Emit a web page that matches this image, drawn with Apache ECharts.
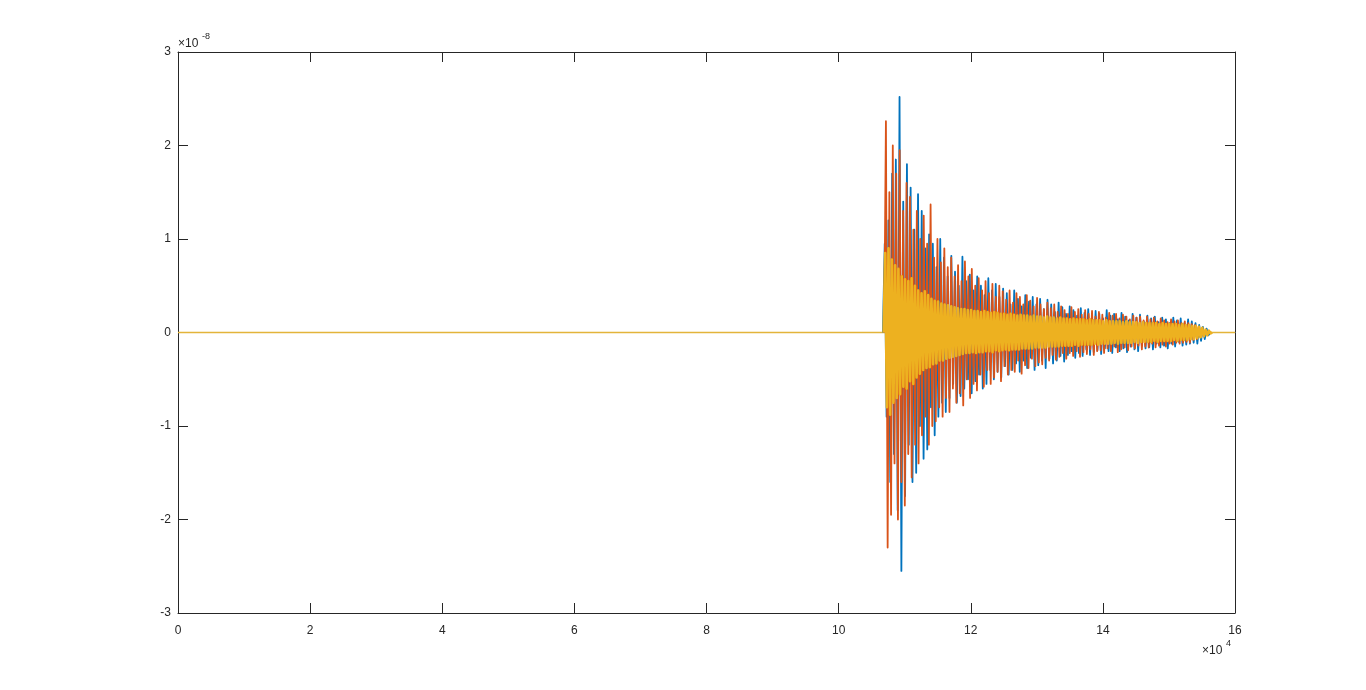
<!DOCTYPE html>
<html>
<head>
<meta charset="utf-8">
<script src="https://cdn.jsdelivr.net/npm/echarts@6/dist/echarts.min.js"></script>
<style>
html,body{margin:0;padding:0;background:#fff;}
#chart{width:1366px;height:690px;}
</style>
</head>
<body>
<div id="chart"></div>
<script>
// x: sample index (axis labelled in units of 10^4); y: amplitude in units of 10^-8
const xTickLabels = ['0','2','4','6','8','10','12','14','16'];
const yTickLabels = ['-3','-2','-1','0','1','2','3'];

// Quiet part before and after the event (all three traces sit at ~0 there)
const quietX = [0, 160000];
const quietY = [0, 0];

// Series 1 (blue): one value every 280 samples from sample 106700
const blueStart = 106700, blueStep = 280;
const blueValues = [
 0,
 .95,-.9, 1.2,-1.6, 1.7,-1.3, 1.85,-1.9, 2.52,-2.55,
 1.4,-1.75, 1.8,-1.2, 1.55,-1.6, 1.1,-1.5, 1.48,-1.0,
 1.3,-1.35, .9,-1.25, 1.05,-.8, .95,-1.1, .7,-.9,
 1.0,-.75, .8,-.85, .6,-.7, .82,-.55, .65,-.75,
 .5,-.68, .81,-.6, .55,-.5, .62,-.65, .45,-.52,
 .6,-.45, .5,-.6, .4,-.55, .58,-.4, .45,-.5,
 .52,-.42, .38,-.48, .47,-.36, .42,-.45, .3,-.4,
 .45,-.33, .36,-.42, .28,-.3, .4,-.38, .33,-.27,
 .38,-.4, .3,-.35, .36,-.3, .25,-.38, .35,-.28,
 .3,-.33, .22,-.3, .32,-.25, .27,-.31, .2,-.24,
 .28,-.2, .24,-.27, .18,-.22, .26,-.25, .21,-.18,
 .25,-.24, .17,-.21, .23,-.19, .2,-.23, .15,-.17,
 .24,-.2, .18,-.22, .2,-.16, .14,-.2, .21,-.17,
 .17,-.21, .13,-.15, .2,-.18, .16,-.2, .19,-.14,
 .12,-.17, .18,-.16, .15,-.18, .17,-.12, .11,-.16,
 .16,-.14, .14,-.17, .1,-.12, .16,-.15, .13,-.1,
 .15,-.14, .1,-.13, .14,-.12, .12,-.11, .1,-.12,
 .08,-.09, .06,-.07, .04,-.03,
 0
];

// Series 2 (orange): one value every 260 samples from sample 106900
const orangeStart = 106900, orangeStep = 260;
const orangeValues = [
 0,
 2.26,-2.3, 1.5,-1.95, 2.0,-1.4, 1.7,-2.0, 1.95,-1.6,
 1.3,-1.85, 1.6,-1.3, 1.45,-1.55, 1.1,-1.2, 1.3,-1.4,
 1.0,-1.1, 1.25,-.9, .95,-1.2, 1.37,-1.0, .8,-.95,
 1.0,-.8, .75,-.9, .9,-.7, .7,-.85, .8,-.6,
 .6,-.75, .72,-.65, .55,-.78, .76,-.5, .6,-.7,
 .68,-.55, .5,-.62, .58,-.45, .45,-.58, .55,-.4,
 .42,-.55, .52,-.48, .38,-.42, .5,-.52, .44,-.36,
 .35,-.45, .45,-.4, .32,-.42, .42,-.3, .38,-.44,
 .3,-.35, .4,-.38, .34,-.28, .28,-.36, .37,-.32,
 .3,-.34, .25,-.27, .32,-.3, .26,-.24, .3,-.29,
 .22,-.26, .28,-.22, .24,-.28, .2,-.22, .27,-.25,
 .22,-.2, .25,-.26, .19,-.21, .24,-.23, .2,-.18,
 .23,-.24, .17,-.2, .22,-.19, .19,-.22, .16,-.17,
 .21,-.2, .18,-.15, .2,-.21, .15,-.18, .19,-.16,
 .17,-.19, .14,-.15, .18,-.17, .16,-.14, .17,-.18,
 .13,-.15, .17,-.16, .14,-.12, .16,-.16, .12,-.14,
 .15,-.13, .13,-.15, .11,-.12, .14,-.13, .12,-.11,
 .13,-.12, .1,-.11, .12,-.1, .1,-.11, .09,-.08,
 .08,-.07, .06,-.05, .04,-.04, .02,-.01,
 0
];

// Series 3 (yellow): one value every 250 samples from sample 106800
const yellowStart = 106800, yellowStep = 250;
const yellowValues = [
 0,
 .85,-.8, .9,-.88, .78,-.75, .72,-.7, .68,-.66,
 .6,-.58, .57,-.6, .55,-.52, .58,-.55, .5,-.48,
 .45,-.44, .42,-.4, .44,-.38, .4,-.37, .36,-.34,
 .34,-.33, .33,-.3, .31,-.3, .3,-.28, .29,-.27,
 .28,-.26, .27,-.25, .26,-.24, .25,-.23, .25,-.22,
 .24,-.22, .24,-.21, .23,-.22, .23,-.21, .22,-.21,
 .23,-.2, .22,-.2, .21,-.21, .22,-.19, .21,-.2,
 .2,-.19, .2,-.18, .19,-.19, .2,-.18, .19,-.18,
 .18,-.18, .19,-.17, .18,-.17, .18,-.17, .17,-.17,
 .18,-.16, .17,-.16, .17,-.16, .16,-.16, .17,-.15,
 .16,-.15, .16,-.15, .15,-.15, .16,-.14, .15,-.14,
 .15,-.14, .14,-.14, .15,-.13, .14,-.14, .14,-.13,
 .14,-.13, .13,-.13, .14,-.13, .13,-.12, .13,-.13,
 .13,-.12, .12,-.12, .13,-.12, .12,-.12, .12,-.11,
 .12,-.12, .12,-.11, .11,-.11, .12,-.11, .11,-.11,
 .11,-.1, .11,-.11, .1,-.1, .11,-.1, .1,-.1,
 .1,-.1, .1,-.09, .1,-.1, .09,-.09, .1,-.09,
 .09,-.09, .09,-.09, .09,-.08, .09,-.09, .08,-.08,
 .09,-.08, .08,-.08, .08,-.07, .07,-.07, .07,-.06,
 .06,-.05, .05,-.04, .03,-.03, .02,-.01,
 0
];

const xMin = 0, xMax = 160000, xInterval = 20000;
const yMin = -3, yMax = 3, yInterval = 1;

function buildSeries(start, step, values) {
  return values.map((v, i) => [start + i * step, v]);
}

const axisColor = '#262626';
const font = 'Liberation Sans, Arial, Helvetica, sans-serif';

const chart = echarts.init(document.getElementById('chart'), null, {renderer: 'canvas'});

const xAxisBase = {
  type: 'value', min: xMin, max: xMax, interval: xInterval,
  axisLine: {show: true, onZero: false, lineStyle: {color: axisColor, width: 1}},
  axisTick: {show: true, inside: true, length: 10, lineStyle: {color: axisColor}},
  splitLine: {show: false}
};
const yAxisBase = {
  type: 'value', min: yMin, max: yMax, interval: yInterval,
  axisLine: {show: true, onZero: false, lineStyle: {color: axisColor, width: 1}},
  axisTick: {show: true, inside: true, length: 10, lineStyle: {color: axisColor}},
  splitLine: {show: false}
};

chart.setOption({
  animation: false,
  backgroundColor: '#ffffff',
  grid: {left: 178, right: 131, top: 52, bottom: 77, containLabel: false},
  xAxis: [
    Object.assign({}, xAxisBase, {
      position: 'bottom',
      axisLabel: {
        show: true, color: axisColor, fontSize: 12, fontFamily: font, margin: 12,
        formatter: v => xTickLabels[Math.round((v - xMin) / xInterval)]
      }
    }),
    Object.assign({}, xAxisBase, {position: 'top', axisLabel: {show: false}})
  ],
  yAxis: [
    Object.assign({}, yAxisBase, {
      position: 'left',
      axisLabel: {
        show: true, color: axisColor, fontSize: 12, fontFamily: font, margin: 7,
        padding: [4, 0, 0, 0],
        formatter: v => yTickLabels[Math.round((v - yMin) / yInterval)]
      }
    }),
    Object.assign({}, yAxisBase, {position: 'right', axisLabel: {show: false}})
  ],
  series: [
    {type: 'line', name: 'quiet', xAxisIndex: 0, yAxisIndex: 0, showSymbol: false, symbol: 'none',
     lineStyle: {color: '#E3B43A', width: 1.3}, data: quietX.map((x, i) => [x, quietY[i]])},
    {type: 'line', name: 'blue', xAxisIndex: 0, yAxisIndex: 0, showSymbol: false, symbol: 'none',
     lineStyle: {color: '#0072BD', width: 1.8, join: 'round'}, data: buildSeries(blueStart, blueStep, blueValues)},
    {type: 'line', name: 'orange', xAxisIndex: 0, yAxisIndex: 0, showSymbol: false, symbol: 'none',
     lineStyle: {color: '#D95319', width: 1.8, join: 'round'}, data: buildSeries(orangeStart, orangeStep, orangeValues)},
    {type: 'line', name: 'yellow', xAxisIndex: 0, yAxisIndex: 0, showSymbol: false, symbol: 'none',
     lineStyle: {color: '#EDB120', width: 2.6, join: 'round'}, data: buildSeries(yellowStart, yellowStep, yellowValues)}
  ],
  graphic: [
    {type: 'text', left: 178, top: 38, style: {text: '×10', fill: axisColor, font: '12px ' + font}},
    {type: 'text', left: 202, top: 32, style: {text: '-8', fill: axisColor, font: '9px ' + font}},
    {type: 'text', left: 1202, top: 645, style: {text: '×10', fill: axisColor, font: '12px ' + font}},
    {type: 'text', left: 1226, top: 639, style: {text: '4', fill: axisColor, font: '9px ' + font}}
  ]
});
</script>
</body>
</html>
